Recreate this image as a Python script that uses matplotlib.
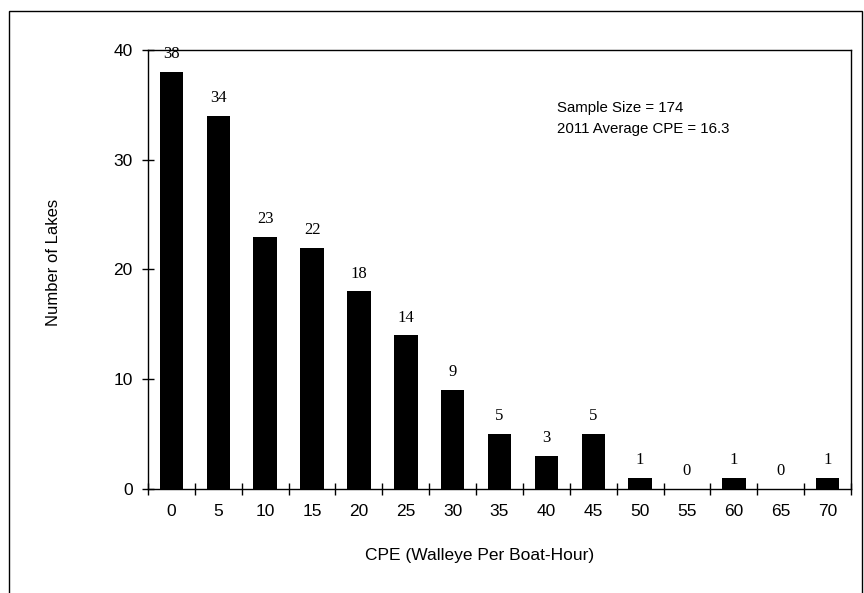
import matplotlib.pyplot as plt
import numpy as np
from matplotlib.patches import Rectangle

cpe_bins = ["0", "5", "10", "15", "20", "25", "30", "35", "40", "45", "50", "55", "60", "65", "70"]
lake_counts = [38, 34, 23, 22, 18, 14, 9, 5, 3, 5, 1, 0, 1, 0, 1]
y_ticks = [0, 10, 20, 30, 40]
notes = ["Sample Size = 174", "2011 Average CPE = 16.3"]

sans = ["Liberation Sans", "DejaVu Sans"]
serif = ["Liberation Serif", "DejaVu Serif"]

fig = plt.figure(figsize=(8.64, 5.93), dpi=100)
ax = fig.add_axes([0.1713, 0.1754, 0.8137, 0.7403])

# outer frame of the figure
fig.patches.append(Rectangle((0.0104, -0.02), 0.9873, 1.0015, transform=fig.transFigure,
                             fill=False, edgecolor="black", linewidth=1.0))

x = np.arange(len(cpe_bins))
ax.bar(x, lake_counts, width=0.5, color="black")

for xi, v in zip(x, lake_counts):
    ax.annotate(str(v), (xi, v), xytext=(0, 7), textcoords="offset points",
                ha="center", va="bottom", fontsize=12, family=serif)

ax.set_xlim(-0.5, len(cpe_bins) - 0.5)
ax.set_ylim(0, 40)

# tick marks between categories, labels under bars
ax.set_xticks(np.arange(-0.5, len(cpe_bins)))
ax.set_xticklabels([])
ax.set_xticks(x, minor=True)
ax.set_xticklabels(cpe_bins, minor=True, fontsize=12.5, family=sans)
ax.tick_params(axis="x", which="major", direction="inout", length=8, width=1)
ax.tick_params(axis="x", which="minor", length=0, pad=11)

ax.set_yticks(y_ticks)
ax.set_yticklabels([str(t) for t in y_ticks], fontsize=12.5, family=sans)
ax.tick_params(axis="y", direction="inout", length=8, width=1, pad=7)

for s in ax.spines.values():
    s.set_linewidth(1.0)

ax.set_ylabel("Number of Lakes", fontsize=12, family=sans)
ax.yaxis.set_label_coords(-0.124, 0.515)
ax.set_xlabel("CPE (Walleye Per Boat-Hour)", fontsize=12.5, family=sans)
ax.xaxis.set_label_coords(0.472, -0.134)

ax.text(0.582, 0.844, "\n".join(notes), transform=ax.transAxes, fontsize=10.8,
        family=sans, va="center", ha="left", linespacing=1.7)

fig.savefig("out.png", dpi=100)
